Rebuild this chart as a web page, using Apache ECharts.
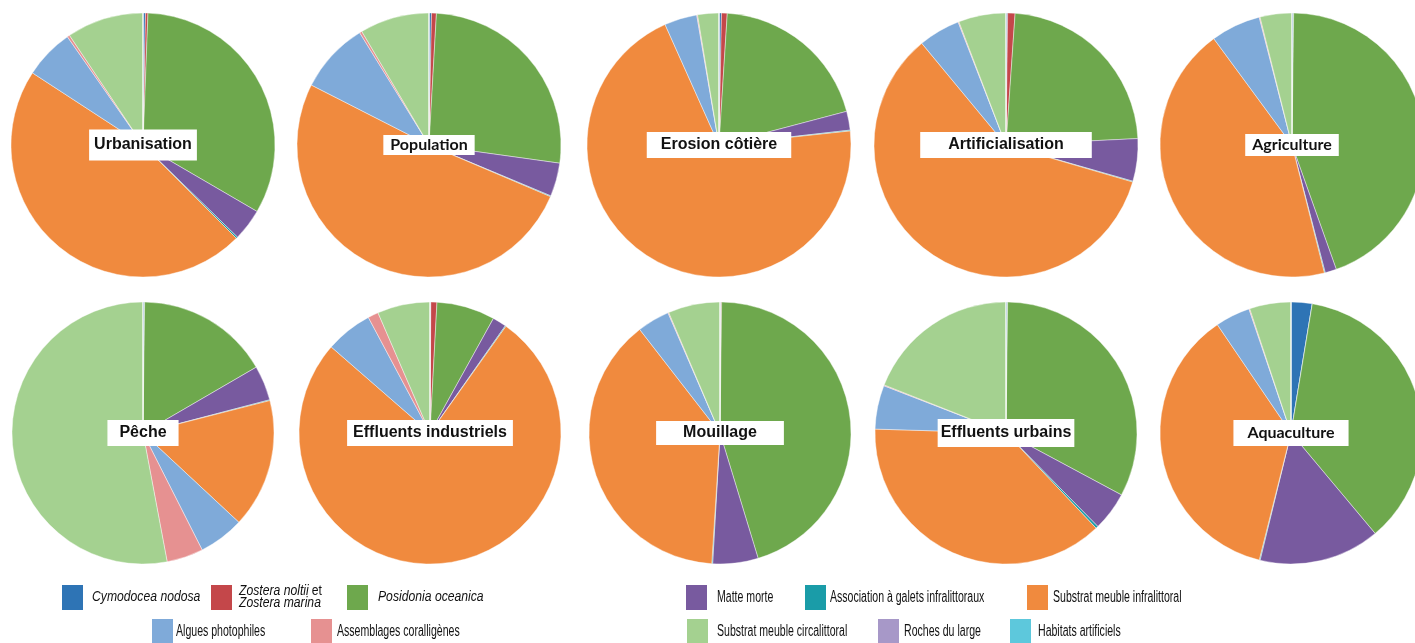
<!DOCTYPE html>
<html>
<head>
<meta charset="utf-8">
<script src="https://cdn.jsdelivr.net/npm/echarts@6/dist/echarts.min.js"></script>
<style>
  html, body { margin: 0; padding: 0; background: #ffffff; }
  #chart { width: 1415px; height: 643px; }
</style>
</head>
<body>
<div id="chart"></div>
<script>
// Habitat categories (slice order, clockwise from 12 o'clock)
const habitats = [
  'Cymodocea nodosa',
  'Zostera noltii et Zostera marina',
  'Posidonia oceanica',
  'Matte morte',
  'Association à galets infralittoraux',
  'Substrat meuble infralittoral',
  'Algues photophiles',
  'Assemblages coralligènes',
  'Substrat meuble circalittoral',
  'Roches du large',
  'Habitats artificiels'
];

// Pressure names, one pie each
const pressures = [
  'Urbanisation', 'Population', 'Erosion côtière', 'Artificialisation', 'Agriculture',
  'Pêche', 'Effluents industriels', 'Mouillage', 'Effluents urbains', 'Aquaculture'
];

// Share (%) of each habitat under each pressure
const urbanisation      = [0.3, 0.3, 32.8, 3.9, 0.2, 46.7, 6.1, 0.3, 9.4, 0, 0];
const population        = [0.3, 0.6, 26.3, 4.1, 0.1, 51.1, 8.7, 0.3, 8.5, 0, 0];
const erosionCotiere    = [0.3, 0.7, 19.9, 2.3, 0.1, 70.0, 4.0, 0.1, 2.6, 0, 0];
const artificialisation = [0.2, 0.9, 23.1, 5.2, 0.1, 59.4, 5.1, 0.1, 5.8, 0, 0];
const agriculture       = [0.2, 0.0, 44.4, 1.4, 0.1, 43.9, 6.1, 0.1, 3.9, 0, 0];
const peche             = [0.2, 0.0, 16.4, 4.3, 0.1, 15.9, 5.6, 4.5, 52.9, 0, 0];
const effluentsIndus    = [0.1, 0.75, 7.2, 1.7, 0.1, 76.6, 5.8, 1.3, 6.5, 0, 0];
const mouillage         = [0.1, 0.1, 45.1, 5.6, 0.1, 38.5, 4.0, 0.1, 6.4, 0, 0];
const effluentsUrbains  = [0.2, 0.0, 32.6, 4.8, 0.3, 37.5, 5.4, 0.1, 19.0, 0, 0];
const aquaculture       = [2.6, 0.0, 36.3, 14.9, 0.1, 36.6, 4.3, 0.1, 5.1, 0, 0];

const shares = [
  urbanisation, population, erosionCotiere, artificialisation, agriculture,
  peche, effluentsIndus, mouillage, effluentsUrbains, aquaculture
];

// Styling
const habitatColors = [
  '#2e74b5', '#c4474a', '#6ea84d', '#785a9f', '#1a9ca8', '#f08a3e',
  '#7faad9', '#e69191', '#a4d190', '#a798c8', '#5dc8dc'
];

// Pie placement: [centerX, centerY, radius]
const pieLayout = [
  [143, 145, 132], [429, 145, 132], [719, 145, 132], [1006, 145, 132], [1292, 145, 132],
  [143, 433, 131], [430, 433, 131], [720, 433, 131], [1006, 433, 131], [1291, 433, 131]
];
// Per-pie label look: [fontFamily, padding]
const arial = 'Liberation Sans, Arial, sans-serif';
const calibriLike = 'Lato, Open Sans, sans-serif';
const labelLook = [
  [arial, [8, 5, 7, 5]], [calibriLike, [2, 7, 2, 7]], [arial, [5, 14, 5, 14]],
  [arial, [5, 28, 5, 28]], [calibriLike, [3, 7, 3, 7]],
  [arial, [5, 12, 5, 12]], [arial, [5, 6, 5, 6]], [arial, [4, 27, 4, 27]],
  [arial, [6, 3, 6, 3]], [calibriLike, [5, 14, 5, 14]]
];

const series = pressures.map((name, i) => ({
  type: 'pie',
  name: name,
  center: [pieLayout[i][0], pieLayout[i][1]],
  radius: pieLayout[i][2],
  startAngle: 90,
  clockwise: true,
  silent: true,
  animation: false,
  avoidLabelOverlap: false,
  itemStyle: { borderColor: 'rgba(255,255,255,0.7)', borderWidth: 0.6 },
  label: { show: false },
  labelLine: { show: false },
  emphasis: { disabled: true },
  data: habitats.map((h, k) => {
    const item = { name: h, value: shares[i][k], itemStyle: { color: habitatColors[k] } };
    if (k === 5) {
      item.label = {
        show: true,
        position: 'center',
        formatter: name,
        fontFamily: labelLook[i][0],
        fontWeight: 'bold',
        fontSize: 16,
        color: '#111',
        backgroundColor: '#ffffff',
        padding: labelLook[i][1]
      };
    }
    return item;
  })
}));

// Legend, drawn as swatch + condensed caption
// entries: [habitat index, swatch left, swatch top, caption left]
const legendPlacement = [
  [0, 62, 585, 92], [1, 211, 585, 239], [2, 347, 585, 378],
  [3, 686, 585, 717], [4, 805, 585, 830], [5, 1027, 585, 1053],
  [6, 152, 619, 176], [7, 311, 619, 337], [8, 687, 619, 717],
  [9, 878, 619, 904], [10, 1010, 619, 1038]
];
const legendFont = 'Liberation Sans, Arial, sans-serif';
const legendGraphics = [];
legendPlacement.forEach(([k, sx, sy, tx]) => {
  legendGraphics.push({
    type: 'rect',
    x: sx, y: sy,
    shape: { width: 21, height: 25 },
    style: { fill: habitatColors[k] },
    silent: true
  });
  const midY = sy + 12.5;
  if (k === 1) {
    legendGraphics.push({
      type: 'text', x: tx, y: midY, scaleX: 0.87, silent: true,
      style: {
        text: '{it|Zostera noltii} {n|et}\n{it|Zostera marina}',
        align: 'left', verticalAlign: 'middle',
        fill: '#111',
        rich: {
          it: { fontStyle: 'italic', fontFamily: legendFont, fontSize: 14, lineHeight: 12, fill: '#111' },
          n: { fontFamily: legendFont, fontSize: 14, lineHeight: 12, fill: '#111' }
        }
      }
    });
  } else if (k === 0 || k === 2) {
    legendGraphics.push({
      type: 'text', x: tx, y: midY, scaleX: 0.87, silent: true,
      style: {
        text: habitats[k], align: 'left', verticalAlign: 'middle',
        fill: '#111', fontStyle: 'italic', fontFamily: legendFont, fontSize: 14
      }
    });
  } else {
    legendGraphics.push({
      type: 'text', x: tx, y: midY, scaleX: 0.66, silent: true,
      style: {
        text: habitats[k], align: 'left', verticalAlign: 'middle',
        fill: '#111', fontFamily: legendFont, fontSize: 16
      }
    });
  }
});

const chart = echarts.init(document.getElementById('chart'), null, { renderer: 'canvas' });
chart.setOption({
  backgroundColor: '#ffffff',
  animation: false,
  series: series,
  graphic: legendGraphics
});
</script>
</body>
</html>
